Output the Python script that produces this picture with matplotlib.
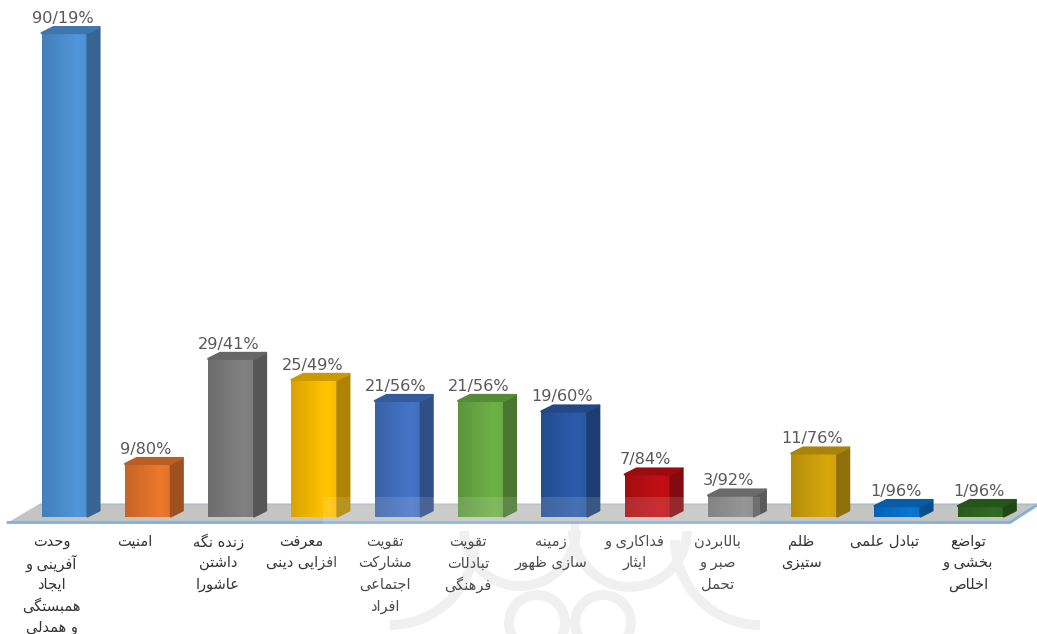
#!/usr/bin/env python3
import numpy as np
import matplotlib
matplotlib.use("Agg")
import matplotlib.pyplot as plt
from matplotlib.colors import to_rgb
from matplotlib.patches import Polygon, Rectangle, Arc

values = [90.19, 9.80, 29.41, 25.49, 21.56, 21.56, 19.60, 7.84, 3.92, 11.76, 1.96, 1.96]
value_labels = ["90/19%", "9/80%", "29/41%", "25/49%", "21/56%", "21/56%",
                "19/60%", "7/84%", "3/92%", "11/76%", "1/96%", "1/96%"]
categories = [
    ["وحدت", "آفرینی و", "ایجاد", "همبستگی", "و همدلی"],
    ["امنیت"],
    ["زنده نگه", "داشتن", "عاشورا"],
    ["معرفت", "افزایی دینی"],
    ["تقویت", "مشارکت", "اجتماعی", "افراد"],
    ["تقویت", "تبادلات", "فرهنگی"],
    ["زمینه", "سازی ظهور"],
    ["فداکاری و", "ایثار"],
    ["بالابردن", "صبر و", "تحمل"],
    ["ظلم", "ستیزی"],
    ["تبادل علمی"],
    ["تواضع", "بخشی و", "اخلاص"],
]
colors = ["#4f94d8", "#e8762c", "#7f7f7f", "#ffc000", "#4472c4", "#6cae46",
          "#2a5aa8", "#c00f14", "#858585", "#d4a50c", "#0a72d0", "#2f6a22"]

# isolated, final, initial, medial presentation forms
FORMS = {
    "ا": "\ufe8d\ufe8e", "آ": "\ufe81\ufe82", "د": "\ufea9\ufeaa", "ذ": "\ufeab\ufeac",
    "ر": "\ufead\ufeae", "ز": "\ufeaf\ufeb0", "ژ": "\ufb8a\ufb8b", "و": "\ufeed\ufeee",
    "ب": "\ufe8f\ufe90\ufe91\ufe92", "پ": "\ufb56\ufb57\ufb58\ufb59",
    "ت": "\ufe95\ufe96\ufe97\ufe98", "ث": "\ufe99\ufe9a\ufe9b\ufe9c",
    "ج": "\ufe9d\ufe9e\ufe9f\ufea0", "ح": "\ufea1\ufea2\ufea3\ufea4",
    "خ": "\ufea5\ufea6\ufea7\ufea8", "س": "\ufeb1\ufeb2\ufeb3\ufeb4",
    "ش": "\ufeb5\ufeb6\ufeb7\ufeb8", "ص": "\ufeb9\ufeba\ufebb\ufebc",
    "ض": "\ufebd\ufebe\ufebf\ufec0", "ط": "\ufec1\ufec2\ufec3\ufec4",
    "ظ": "\ufec5\ufec6\ufec7\ufec8", "ع": "\ufec9\ufeca\ufecb\ufecc",
    "غ": "\ufecd\ufece\ufecf\ufed0", "ف": "\ufed1\ufed2\ufed3\ufed4",
    "ق": "\ufed5\ufed6\ufed7\ufed8", "ک": "\ufb8e\ufb8f\ufb90\ufb91",
    "گ": "\ufb92\ufb93\ufb94\ufb95", "ل": "\ufedd\ufede\ufedf\ufee0",
    "م": "\ufee1\ufee2\ufee3\ufee4", "ن": "\ufee5\ufee6\ufee7\ufee8",
    "ه": "\ufee9\ufeea\ufeeb\ufeec", "ی": "\ufbfc\ufbfd\ufbfe\ufbff",
}


def shape(text):
    # matplotlib has no arabic shaping, so pick the joined forms and reverse
    out = []
    for i, ch in enumerate(text):
        forms = FORMS.get(ch)
        if forms is None:
            out.append(ch)
            continue
        prev = FORMS.get(text[i - 1]) if i > 0 else None
        nxt = FORMS.get(text[i + 1]) if i + 1 < len(text) else None
        join_prev = prev is not None and len(prev) == 4
        join_next = nxt is not None and len(forms) == 4
        if join_prev and join_next:
            out.append(forms[3])
        elif join_prev:
            out.append(forms[1])
        elif join_next:
            out.append(forms[2])
        else:
            out.append(forms[0])
    return "".join(reversed(out))


W, H = 1037, 634
X0, X_STEP = 64.5, 83.3      # first bar centre and spacing, px
Y0, Y_SCALE = 516.5, 5.36    # baseline and px per percent

fig = plt.figure(figsize=(W / 100, H / 100), dpi=100)
ax = fig.add_axes([0, 0, 1, 1])
ax.axis("off")


def px(dx):
    return dx / X_STEP


def py(dy):
    return dy / Y_SCALE


def to_data(x, y):
    return (x - X0) / X_STEP, (Y0 - y) / Y_SCALE


# floor
floor = [to_data(8, 522.5), to_data(40, 503.5), to_data(1037, 503.5),
         to_data(1037, 505), to_data(1010, 522.5)]
ax.add_patch(Polygon(floor, closed=True, fc="#c4c4c2", ec="none", zorder=1))
ax.plot([floor[0][0], floor[4][0], floor[3][0]], [floor[0][1], floor[4][1], floor[3][1]],
        color="#7fb0e0", lw=2, zorder=1.5)
ax.plot([floor[1][0], floor[2][0]], [floor[1][1], floor[2][1]],
        color="#aebccc", lw=1, zorder=1.5)

bar_w = px(46)
depth_x = px(12)
for i, (v, c) in enumerate(zip(values, colors)):
    rgb = np.array(to_rgb(c))
    left = i - bar_w / 2
    right = i + bar_w / 2
    depth_y = py(6)
    ax.bar(i, v, width=bar_w, color=c, zorder=3)
    shade = np.linspace(0.86, 1.06, 16)
    shade = np.minimum(shade, shade[::-1] + 0.12)[None, :, None]
    grad = np.clip(rgb[None, None, :] * shade, 0, 1)
    ax.imshow(grad, extent=(left, right, 0, v), aspect="auto", zorder=3.1,
              interpolation="bilinear")
    side = [(right, 0), (right + depth_x, depth_y), (right + depth_x, v + depth_y), (right, v)]
    top = [(left, v), (left + depth_x, v + depth_y), (right + depth_x, v + depth_y), (right, v)]
    ax.add_patch(Polygon(side, closed=True, fc=rgb * 0.68, ec=rgb * 0.68, lw=1.5,
                         joinstyle="round", zorder=3.2))
    ax.add_patch(Polygon(top, closed=True, fc=rgb * 0.8, ec=rgb * 0.8, lw=1.5,
                         joinstyle="round", zorder=3.3))
    ax.text(i - px(2), v + depth_y + py(8.5), value_labels[i], ha="center", va="center",
            fontsize=11.6, color="#595959", family="DejaVu Sans", zorder=5)
    for j, line in enumerate(categories[i]):
        ax.text(i - px(13), py(-25 - 21.5 * j), shape(line), ha="center", va="center",
                fontsize=10.5, color="#333333", family="DejaVu Sans", zorder=5)

ax.set_xlim(-X0 / X_STEP, (W - X0) / X_STEP)
ax.set_ylim(-(H - Y0) / Y_SCALE, Y0 / Y_SCALE)

# faint logo watermark over the lower middle
ax.add_patch(Rectangle(to_data(323, 634), 437 / X_STEP, 137 / Y_SCALE,
                       fc="white", ec="none", alpha=0.13, zorder=6))
for cx, cy, d, t1, t2 in [(520, 530, 112, 195, 350), (630, 530, 114, 190, 345),
                          (537, 623, 56, 0, 360), (603, 623, 56, 0, 360),
                          (760, 540, 170, 180, 270), (390, 540, 170, 270, 360)]:
    ax.add_patch(Arc(to_data(cx, cy), d / X_STEP, d / Y_SCALE, theta1=t1, theta2=t2,
                     color="#eeeeee", lw=7, zorder=0.5))
ax.plot(*zip(to_data(575, 523), to_data(575, 552)), color="#eeeeee", lw=6, zorder=0.5)

fig.savefig("out.png", dpi=100)
